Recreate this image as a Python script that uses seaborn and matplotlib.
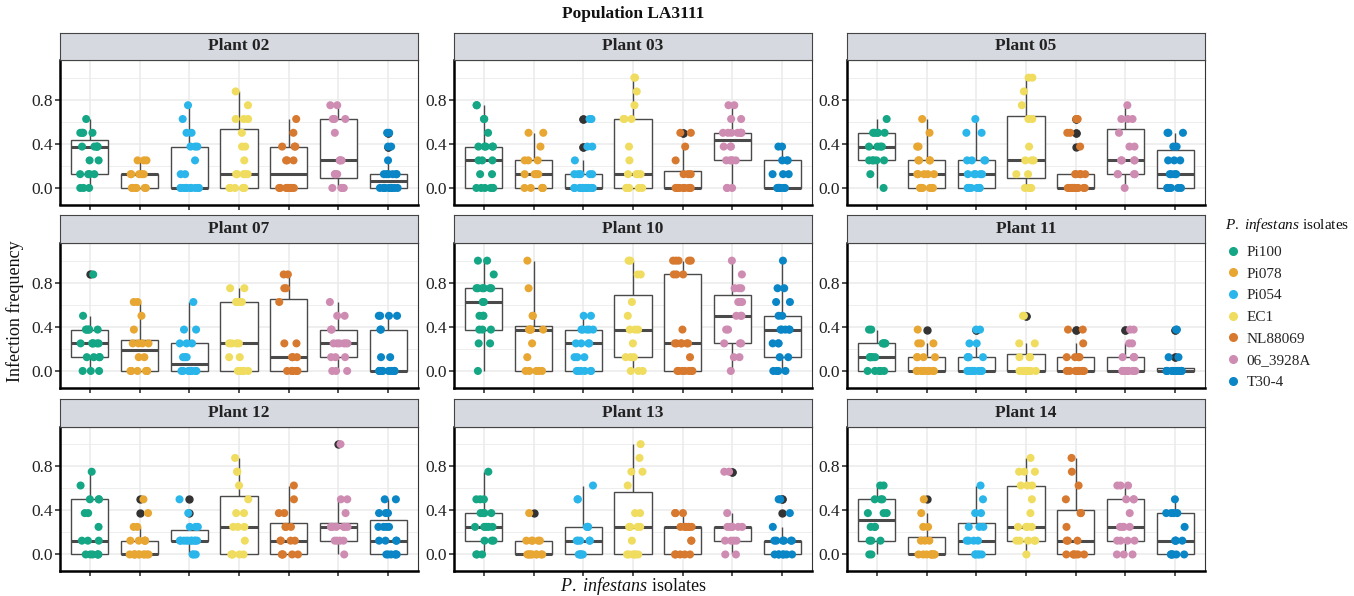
import numpy as np
import pandas as pd
import matplotlib
matplotlib.use("Agg")
import matplotlib.pyplot as plt
import seaborn as sns
from matplotlib.lines import Line2D

sns.set_theme(style="white")
plt.rcParams["font.family"] = ["Liberation Serif", "DejaVu Serif"]
plt.rcParams["mathtext.fontset"] = "custom"
plt.rcParams["mathtext.rm"] = "Liberation Serif"
plt.rcParams["mathtext.it"] = "Liberation Serif:italic"
plt.rcParams["mathtext.bf"] = "Liberation Serif:bold"

# ---------------- data ----------------
ISOLATES = ["Pi100", "Pi078", "Pi054", "EC1", "NL88069", "06_3928A", "T30-4"]
COLORS = ["#14A685", "#E8A632", "#2AB6EA", "#F0DC5E", "#D77A2F", "#CF8CB3", "#0A86C6"]
# observed infection-frequency levels (eighths)
LEVELS = [0.0, 0.125, 0.25, 0.375, 0.5, 0.625, 0.75, 0.875, 1.0]
PLANTS = ["Plant 02", "Plant 03", "Plant 05", "Plant 07", "Plant 10",
          "Plant 11", "Plant 12", "Plant 13", "Plant 14"]

# number of observations at each level, per isolate (order of ISOLATES)
plant_02 = [[3, 4, 2, 5, 4, 1], [6, 5, 3], [11, 2, 1, 3, 2, 1, 1],
            [6, 5, 1, 2, 1, 3, 1, 1], [8, 0, 3, 3, 1, 1],
            [4, 3, 3, 0, 1, 3, 2], [11, 6, 1, 2, 2]]
plant_03 = [[6, 2, 3, 5, 1, 2, 2], [5, 4, 3, 1, 2], [11, 5, 1, 2, 0, 2],
            [7, 4, 1, 1, 0, 3, 1, 1, 2], [9, 3, 1, 1, 2],
            [3, 0, 5, 3, 7, 2, 2], [9, 3, 3, 2]]
plant_05 = [[1, 1, 5, 4, 5, 1], [7, 5, 4, 2, 1, 1], [7, 5, 4, 0, 2, 1],
            [4, 2, 3, 1, 0, 2, 1, 1, 2], [11, 5, 0, 1, 2, 2],
            [1, 4, 4, 2, 1, 3, 1], [6, 4, 3, 2, 3]]
plant_07 = [[3, 4, 6, 5, 1, 0, 0, 1], [6, 2, 4, 1, 1, 2], [9, 3, 3, 2, 0, 1],
            [5, 2, 4, 0, 0, 4, 2], [6, 3, 2, 0, 0, 1, 2, 2],
            [3, 3, 6, 2, 2, 1], [9, 2, 0, 2, 4]]
plant_10 = [[1, 0, 2, 3, 3, 2, 6, 1, 2], [5, 1, 1, 5, 2, 0, 1, 0, 1],
            [6, 3, 4, 5, 2], [3, 3, 1, 3, 1, 1, 0, 2, 2],
            [7, 1, 6, 1, 0, 0, 0, 3, 5], [1, 2, 3, 2, 3, 3, 3, 1, 1],
            [4, 2, 3, 5, 2, 2, 2, 0, 1]]
plant_11 = [[5, 5, 4, 2], [9, 4, 3, 1], [9, 4, 2, 2], [9, 3, 2, 0, 2],
            [9, 4, 1, 2], [10, 4, 2, 2], [12, 2, 0, 2]]
plant_12 = [[6, 3, 1, 2, 3, 1, 1], [10, 5, 2, 1, 1], [3, 10, 3, 1, 1],
            [5, 1, 3, 2, 1, 1, 2, 1], [5, 4, 3, 2, 1, 1],
            [1, 4, 7, 1, 2, 0, 0, 0, 1], [6, 4, 4, 3, 2]]
plant_13 = [[3, 3, 5, 4, 3, 0, 1], [9, 5, 0, 1], [5, 5, 3, 0, 2, 1],
            [6, 1, 4, 2, 0, 1, 2, 1, 1], [5, 2, 6, 3],
            [2, 4, 6, 1, 0, 0, 2], [7, 6, 1, 1, 2]]
plant_14 = [[2, 3, 3, 3, 3, 2], [9, 3, 2, 1, 1], [5, 4, 3, 2, 1, 1],
            [1, 5, 4, 1, 1, 3, 3, 1], [6, 3, 1, 2, 1, 1, 1, 1],
            [3, 4, 4, 1, 3, 3], [6, 4, 1, 4, 1]]

COUNTS = [plant_02, plant_03, plant_05, plant_07, plant_10,
          plant_11, plant_12, plant_13, plant_14]

rows = []
for plant, groups in zip(PLANTS, COUNTS):
    for iso, cnt in zip(ISOLATES, groups):
        vals = np.repeat(LEVELS[:len(cnt)], cnt)
        for v in vals:
            rows.append((plant, iso, v))
df = pd.DataFrame(rows, columns=["plant", "isolate", "freq"])
palette = dict(zip(ISOLATES, COLORS))

# ---------------- layout ----------------
W, H = 1354, 596
fig = plt.figure(figsize=(W / 100, H / 100), dpi=100)
col_left = [60, 454, 847]
pw = 358
strip_top = [32.5, 215.5, 399]
sh, ph = 27.5, 144.5


def add_ax(x, y, w, h):
    return fig.add_axes([x / W, 1 - (y + h) / H, w / W, h / H])


np.random.seed(11)
for i, plant in enumerate(PLANTS):
    r, c = divmod(i, 3)
    ax = add_ax(col_left[c], strip_top[r] + sh, pw, ph)
    sax = add_ax(col_left[c], strip_top[r], pw, sh)

    sub = df[df["plant"] == plant]
    sns.boxplot(data=sub, x="isolate", y="freq", order=ISOLATES, ax=ax,
                width=0.75, color="white", linecolor="#4a4a4a", linewidth=1.0,
                showcaps=False, saturation=1,
                medianprops=dict(linewidth=2.2, color="#4a4a4a"),
                flierprops=dict(marker="o", markerfacecolor="#333333",
                                markeredgecolor="#333333", markersize=5.0))
    sns.stripplot(data=sub, x="isolate", y="freq", order=ISOLATES, hue="isolate",
                  hue_order=ISOLATES, palette=palette, jitter=0.2, size=5.8,
                  linewidth=0, legend=False, ax=ax, zorder=3)

    ax.set_xlim(-0.6, 6.6)
    ax.set_ylim(-0.15, 1.16)
    ax.set_yticks([0.0, 0.4, 0.8])
    ax.set_yticklabels(["0.0", "0.4", "0.8"])
    ax.set_yticks([0.2, 0.6, 1.0], minor=True)
    ax.set_xticks(range(len(ISOLATES)))
    ax.set_xlabel("")
    ax.set_ylabel("")
    ax.tick_params(axis="both", which="major", length=3.5, width=1.2,
                   color="#333333", labelsize=12.5, pad=1.5,
                   labelcolor="#222222", left=True, bottom=True,
                   labelbottom=False)
    ax.tick_params(axis="y", which="minor", length=0)
    ax.set_axisbelow(True)
    ax.grid(True, which="major", color="#EBEBEB", linewidth=1.1)
    ax.grid(True, which="minor", axis="y", color="#EBEBEB", linewidth=0.6)
    ax.set_facecolor("white")
    for side in ["left", "bottom"]:
        ax.spines[side].set_color("black")
        ax.spines[side].set_linewidth(1.8)
    for side in ["top", "right"]:
        ax.spines[side].set_color("#333333")
        ax.spines[side].set_linewidth(0.8)

    sax.set_facecolor("#D6D9E0")
    sax.set_xticks([])
    sax.set_yticks([])
    for s in sax.spines.values():
        s.set_color("#444444")
        s.set_linewidth(0.8)
    sax.text(0.5, 0.5, plant, ha="center", va="center", fontsize=12.5,
             fontweight="bold", color="#222222", transform=sax.transAxes)

fig.text(633 / W, 1 - 14 / H, "Population LA3111", ha="center", va="center",
         fontsize=12.5, fontweight="bold", color="#111111")
fig.text(15 / W, 1 - 311 / H, "Infection frequency", rotation=90,
         ha="center", va="center", fontsize=13, color="#111111")
fig.text(633 / W, 1 - 586 / H, r"$\it{P.\ infestans}$ isolates",
         ha="center", va="center", fontsize=13, color="#111111")

# legend
fig.text(1225 / W, 1 - 225 / H, r"$\it{P.\ infestans}$ isolates",
         ha="left", va="center", fontsize=11, color="#111111")
handles = [Line2D([], [], marker="o", linestyle="", markersize=5.5,
                  markerfacecolor=col, markeredgecolor=col) for col in COLORS]
fig.legend(handles, ISOLATES, loc="upper left",
           bbox_to_anchor=(1223 / W, 1 - 245.5 / H),
           frameon=False, fontsize=11, handletextpad=0.25,
           labelspacing=0.52, borderaxespad=0, handlelength=1.3,
           borderpad=0)

fig.savefig("out.png", dpi=100)
